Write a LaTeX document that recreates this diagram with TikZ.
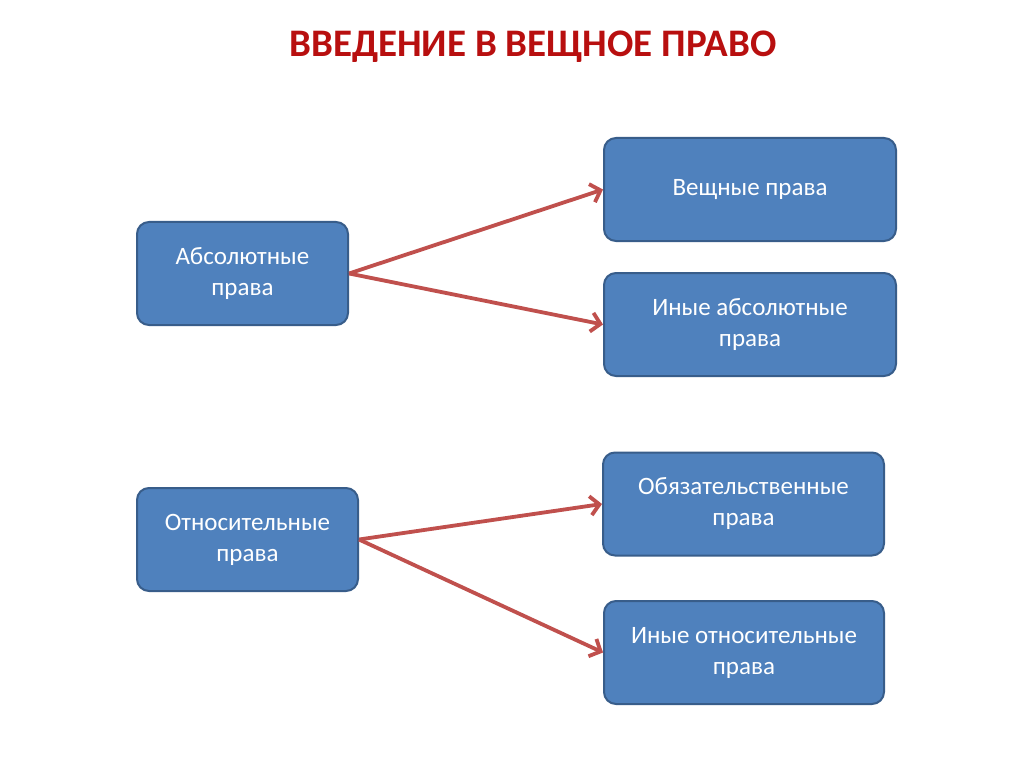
\documentclass[tikz,border=0pt]{standalone}
\usepackage{fontspec}
\setmainfont{Carlito}
\usetikzlibrary{arrows.meta}
\definecolor{boxblue}{HTML}{4F81BD}
\definecolor{boxline}{HTML}{385D8A}
\definecolor{arrowred}{HTML}{C0504D}
\definecolor{titlered}{HTML}{B80F0F}
\begin{document}
\begin{tikzpicture}[x=1pt, y=-1pt,
  pravo/.style={draw=boxline, line width=2pt, fill=boxblue, rounded corners=12pt,
    text=white, align=center, font=\fontsize{25}{31}\selectfont, inner sep=0pt,
    minimum height=103pt},
  strelka/.style={draw=arrowred, line width=3.8pt, -{Straight Barb[length=9pt, width=19pt]}}]
\fill[white] (0,0) rectangle (1024,767);
\node[text=titlered, font=\fontsize{39}{44}\selectfont\bfseries] (title) at (533,47) {ВВЕДЕНИЕ В ВЕЩНОЕ ПРАВО};

% абсолютные
\node[pravo, minimum width=211pt] (abs) at (242.5,273.5) {Абсолютные\\права};
\node[pravo, minimum width=292pt] (veshch) at (750,189.5) {Вещные права};
\node[pravo, minimum width=292pt] (inabs) at (750,324.5) {Иные абсолютные\\права};

% относительные
\node[pravo, minimum width=221pt] (otn) at (247.5,539.5) {Относительные\\права};
\node[pravo, minimum width=281pt] (obyaz) at (743.5,504) {Обязательственные\\права};
\node[pravo, minimum width=280pt] (inotn) at (744,652.5) {Иные относительные\\права};

\draw[strelka] (abs.east) -- (veshch.west);
\draw[strelka] (abs.east) -- (inabs.west);
\draw[strelka] (otn.east) -- (obyaz.west);
\draw[strelka] (otn.east) -- (inotn.west);
\end{tikzpicture}
\end{document}
